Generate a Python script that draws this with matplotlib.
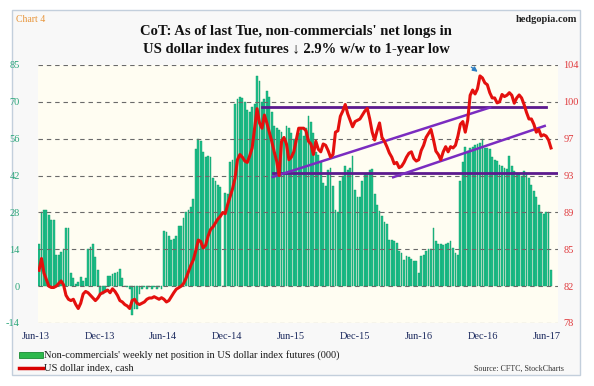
import matplotlib
matplotlib.use('Agg')
import matplotlib.pyplot as plt
import numpy as np
import pandas as pd
from matplotlib.patches import Rectangle
from matplotlib.lines import Line2D

# ---------------- data ----------------
start_date = '2013-06-11'
net_longs = [
    16, 28, 29, 29, 27, 25, 25, 12, 12, 13,
    14, 22, 22, 5, 3, 1, 1.5, 3.5, 2, 3,
    14, 15, 16, 11, 6, -3, -3, -2, 4, 4,
    4.5, 5, 5.5, 6.5, 3, 0, -0.5, -1, -11, -8.5,
    -8.5, -3, -1, -0.5, -1, -0.5, -1, -0.5, -1, -0.5,
    -1, 21, 20.5, 19, 17.5, 18, 19, 23, 23, 26,
    28, 29, 30, 33, 52, 56, 55, 51, 49, 49.5,
    49, 41, 40, 38.5, 37.5, 0, 35.5, 35, 47, 48,
    69, 71, 72, 71.5, 70, 67, 66, 68, 69, 80,
    78, 70, 71, 74, 72, 66, 61, 60, 59.5, 58.5,
    56, 61, 60, 58, 56, 55, 58, 60, 57, 60,
    64.5, 62.5, 58, 51, 50, 47, 39, 38, 44, 45,
    38, 29, 28, 40, 42, 45.5, 44, 45, 49.5, 36.5,
    34, 34, 40, 42.5, 43, 44, 44.5, 35, 31, 28.5,
    26.5, 24.5, 23.5, 17.5, 17.5, 17, 16.5, 13.5, 12.5, 10,
    11.5, 11, 10.5, 9.5, 9.5, 5, 11.5, 12, 13.5, 14,
    14, 22, 17, 16, 16, 15.5, 16, 16.5, 17, 14.5,
    12.5, 12, 40, 47, 53, 51.5, 52.5, 53, 53.5, 54,
    54.5, 56, 52.5, 52.5, 52, 49, 48, 47.5, 46, 45.6,
    45, 44.5, 49.5, 45.5, 43.8, 43, 42.5, 42, 43.8, 43,
    41, 38.5, 36, 34, 31, 28, 27.5, 28, 28, 6,
]
dollar_index = [
    83.31, 84.50, 83.04, 82.38, 81.71, 81.58, 81.58, 81.71, 81.98, 82.24,
    81.85, 80.79, 80.39, 80.26, 80.39, 79.86, 79.46, 79.99, 80.92, 81.18,
    81.05, 80.79, 80.52, 80.26, 80.52, 80.92, 81.05, 81.18, 81.32, 81.05,
    81.45, 81.18, 80.79, 80.26, 80.12, 79.86, 79.72, 79.46, 80.26, 80.39,
    79.99, 79.86, 79.99, 80.12, 80.39, 80.52, 80.52, 80.65, 80.52, 80.39,
    80.55, 80.39, 80.12, 80.26, 80.65, 81.05, 81.40, 81.55, 81.71, 81.98,
    82.51, 83.17, 83.84, 84.37, 85.30, 86.36, 86.22, 85.56, 85.83, 86.75,
    87.42, 87.68, 88.08, 88.48, 88.74, 89.14, 89.01, 89.94, 90.73, 91.53,
    92.59, 94.45, 94.98, 94.71, 94.32, 94.18, 94.85, 95.64, 97.63, 99.60,
    98.16, 97.63, 98.96, 98.16, 97.23, 96.31, 95.25, 94.32, 92.86, 96.31,
    96.70, 96.04, 94.45, 94.71, 95.25, 96.44, 97.63, 97.63, 97.63, 97.37,
    96.31, 96.04, 94.98, 96.31, 95.51, 95.25, 96.04, 95.91, 95.38, 94.71,
    94.98, 97.23, 97.37, 98.83, 99.36, 100.02, 99.09, 98.43, 97.77, 98.30,
    98.43, 98.56, 98.96, 99.36, 99.62, 98.56, 97.23, 96.44, 97.37, 98.16,
    96.70, 96.31, 95.77, 95.14, 94.71, 94.05, 94.18, 93.65, 93.79, 94.18,
    94.71, 95.11, 95.25, 94.58, 94.32, 94.45, 95.38, 95.91, 96.70, 97.10,
    97.50, 96.49, 95.32, 94.98, 94.45, 95.25, 95.77, 95.25, 95.77, 95.64,
    95.91, 96.84, 98.03, 98.30, 97.23, 98.43, 100.95, 101.48, 101.08, 101.61,
    102.90, 102.70, 102.20, 102.01, 101.21, 100.68, 100.68, 100.18, 100.29, 101.03,
    100.82, 100.95, 101.21, 100.95, 100.15, 100.68, 100.98, 100.68, 100.02, 99.22,
    98.56, 98.56, 98.03, 97.23, 97.50, 96.84, 96.97, 96.84, 96.44, 95.64,
]
left_ticks = [-14, 0, 14, 28, 42, 56, 70, 84]
left_labels = ['-14', '0', '14', '28', '42', '56', '70', '85']
right_ticks = list(np.linspace(78, 104, 8))
right_labels = ['78', '82', '85', '89', '93', '97', '100', '104']
x_tick_dates = ['2013-06-01', '2013-12-01', '2014-06-01', '2014-12-01', '2015-06-01',
                '2015-12-01', '2016-06-01', '2016-12-01', '2017-06-01']
x_tick_labels = ['Jun-13', 'Dec-13', 'Jun-14', 'Dec-14', 'Jun-15',
                 'Dec-15', 'Jun-16', 'Dec-16', 'Jun-17']
# trend lines drawn on the chart: (start date, start value, end date, end value)
trend_horizontal = [('2015-03-09', 99.8, '2017-05-30', 99.8),
                    ('2015-04-10', 93.1, '2017-07-05', 93.1)]
trend_rising = [('2015-04-10', 92.72, '2016-12-21', 99.72),
                ('2016-03-19', 92.69, '2017-05-26', 97.86)]

# ---------------- figure ----------------
W, H = 594, 386
fig = plt.figure(figsize=(W / 100, H / 100), dpi=100)
fig.patch.set_facecolor('white')

def fx(x):
    return x / W

def fy(y):
    return 1 - y / H

serif = ['Liberation Serif', 'DejaVu Serif']

fig.patches.append(Rectangle((fx(12), fy(375)), fx(580) - fx(12), fy(10) - fy(375),
                             transform=fig.transFigure, facecolor='#f8f8f8',
                             edgecolor='#c3cfdc', linewidth=1.0, zorder=-5))

ax = fig.add_axes([fx(38), fy(323), fx(558) - fx(38), fy(65) - fy(323)])
ax.set_zorder(1)
ax.set_facecolor('#fffdf2')
dates = pd.date_range(start_date, periods=len(net_longs), freq='7D')

ax.bar(dates, net_longs, width=5.2, color='#1fc08c', edgecolor='#0f9a66',
       linewidth=0.3, zorder=2)
for t in left_ticks:
    ax.axhline(t, color='#6a6a6a', linestyle=(0, (4, 3.5)), linewidth=0.8, zorder=3)
ax.set_ylim(-14, 84)
ax.set_yticks(left_ticks)
ax.set_yticklabels(left_labels, family=serif, fontsize=7.5, color='#2aa57a')
ax.set_xlim(pd.Timestamp('2013-06-08'), pd.Timestamp('2017-07-03'))
ax.set_xticks([])
for d, lab in zip(pd.to_datetime(x_tick_dates), x_tick_labels):
    ax.text(d, -0.054, lab, transform=ax.get_xaxis_transform(), family=serif,
            fontsize=7.5, color='#1c2a5e', ha='center', va='center', clip_on=False)
ax.tick_params(axis='both', length=0)
ax.tick_params(axis='y', pad=13)
for s in ax.spines.values():
    s.set_visible(False)

ax2 = ax.twinx()
ax2.set_ylim(78, 104)
ax2.set_yticks(right_ticks)
ax2.set_yticklabels(right_labels, family=serif, fontsize=7.5, color='#e0393c')
ax2.tick_params(axis='y', length=0, pad=4)
for s in ax2.spines.values():
    s.set_visible(False)

for d0, v0, d1, v1 in trend_horizontal:
    ax2.plot(pd.to_datetime([d0, d1]), [v0, v1], color='#5c1a8e', linewidth=2.0,
             zorder=3, clip_on=True)
for d0, v0, d1, v1 in trend_rising:
    ax2.plot(pd.to_datetime([d0, d1]), [v0, v1], color='#7a2cc0', linewidth=1.8,
             zorder=3)
ax2.plot(dates, dollar_index, color='#e4100e', linewidth=2.2, zorder=4,
         solid_joinstyle='round')
ax2.annotate('', xy=(pd.Timestamp('2016-11-22'), 103.15),
             xytext=(pd.Timestamp('2016-10-22'), 103.95),
             arrowprops=dict(arrowstyle='-|>', color='#2f7fc4', lw=1.0,
                             mutation_scale=7))
ax.set_xlim(pd.Timestamp('2013-06-08'), pd.Timestamp('2017-07-03'))

# ---------------- texts ----------------
fig.text(fx(16), fy(20), 'Chart 4', family=serif, fontsize=7, color='#e8963c',
         ha='left', va='center')
fig.text(fx(577), fy(20), 'hedgopia.com', family=serif, fontsize=7.5,
         fontweight='bold', color='#222222', ha='right', va='center')
fig.text(fx(296), fy(32), "CoT: As of last Tue, non-commercials' net longs in",
         family=serif, fontsize=10.5, fontweight='bold',
         color='#111111', ha='center', va='center')
fig.text(fx(296), fy(50), "US dollar index futures \u2193 2.9% w/w to 1-year low",
         family=serif, fontsize=10.5, fontweight='bold',
         color='#111111', ha='center', va='center')

fig.patches.append(Rectangle((fx(19), fy(358)), fx(43) - fx(19), fy(352) - fy(358),
                             transform=fig.transFigure, facecolor='#2db84c',
                             edgecolor='#178a32', linewidth=0.6))
fig.lines.append(Line2D([fx(19), fx(43)], [fy(367.5), fy(367.5)],
                        transform=fig.transFigure, color='#d80000', linewidth=2.5))
fig.text(fx(44), fy(355), "Non-commercials' weekly net position in US dollar index futures (000)",
         family=serif, fontsize=7.5, color='#1a1a1a', ha='left', va='center')
fig.text(fx(44), fy(367.5), 'US dollar index, cash', family=serif, fontsize=7.5,
         color='#1a1a1a', ha='left', va='center')
fig.text(fx(564), fy(369), 'Source: CFTC, StockCharts', family=serif, fontsize=5.8,
         color='#333333', ha='right', va='center')

fig.savefig('out.png', dpi=100, facecolor=fig.get_facecolor())
